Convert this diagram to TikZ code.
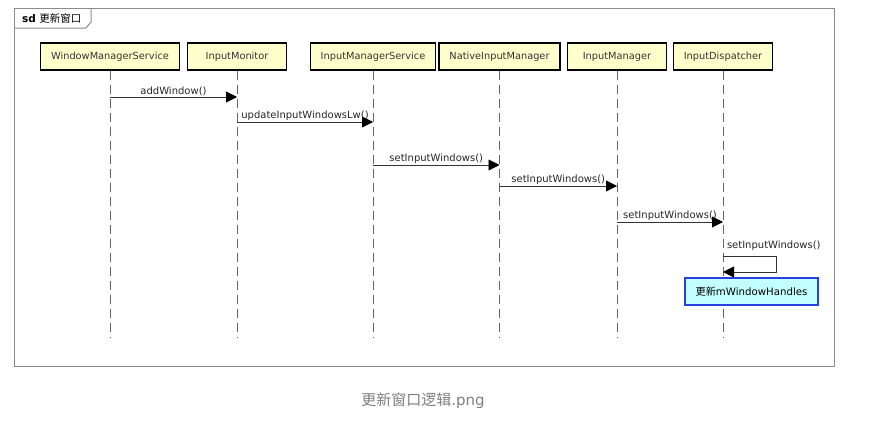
\documentclass[tikz,border=0pt]{standalone}
\usepackage{fontspec}
\setmainfont{DejaVu Sans}
\newfontfamily\cjk{Noto Sans CJK SC}
\usetikzlibrary{arrows.meta}
\definecolor{boxfill}{HTML}{FFFFCC}
\definecolor{notefill}{HTML}{C4FFFF}
\definecolor{noteline}{HTML}{2A3FE0}
\definecolor{framegray}{HTML}{8C8C8C}
\tikzset{
  lifebox/.style={draw=black, line width=1.3pt, fill=boxfill, minimum height=27pt, inner sep=0pt, font=\fontsize{9.8}{11}\selectfont, text=black!80},
  lifeline/.style={draw=black!60, line width=0.8pt, dash pattern=on 9pt off 5pt},
  msg/.style={draw=black!80, line width=0.8pt, -{Triangle[length=11pt,width=11pt,fill=black,color=black]}},
  msglabel/.style={font=\fontsize{10}{11}\selectfont, text=black!85, inner sep=0.8pt},
}
\begin{document}
\begin{tikzpicture}[x=1pt,y=-1pt]
\useasboundingbox[fill=white] (0,0) rectangle (870,423);
% frame
\draw[framegray, line width=1pt] (14,8) rectangle (834,366);
\draw[framegray, line width=1pt] (14,28) -- (86,28) -- (91,22) -- (91,8);
\node[anchor=west, inner sep=0pt, font=\fontsize{10.5}{12}\selectfont] (title) at (22,18) {\textbf{sd} {\cjk 更新窗口}};
% lifeline heads
\node[lifebox, minimum width=139pt] (wms) at (110,56.5) {WindowManagerService};
\node[lifebox, minimum width=99pt] (im) at (237,56.5) {InputMonitor};
\node[lifebox, minimum width=125pt] (ims) at (373,56.5) {InputManagerService};
\node[lifebox, minimum width=121pt] (nim) at (499.5,56.5) {NativeInputManager};
\node[lifebox, minimum width=99pt] (imgr) at (617,56.5) {InputManager};
\node[lifebox, minimum width=99pt] (idp) at (723,56.5) {InputDispatcher};
% lifelines
\foreach \n in {wms,im,ims,nim,imgr,idp} {
  \coordinate (\n-end) at (\n |- 0,338);
  \draw[lifeline] (\n.south) -- (\n-end);
}
% messages
\draw[msg] (wms |- 0,97) -- node[msglabel, above] {addWindow()} (im |- 0,97);
\draw[msg] (im |- 0,122) -- node[msglabel, above] {updateInputWindowsLw()} (ims |- 0,122);
\draw[msg] (ims |- 0,165) -- node[msglabel, above] {setInputWindows()} (nim |- 0,165);
\draw[msg] (nim |- 0,186) -- node[msglabel, above] {setInputWindows()} (imgr |- 0,186);
\draw[msg] (imgr |- 0,222) -- node[msglabel, above] {setInputWindows()} (idp |- 0,222);
% self message
\coordinate (s1) at (idp |- 0,256);
\coordinate (s2) at (idp |- 0,272);
\node[msglabel, anchor=south west] (selflbl) at ([xshift=3pt,yshift=4pt]s1) {setInputWindows()};
\draw[msg] (s1) -- ++(53,0) |- (s2);
% note box
\node[draw=noteline, line width=1.5pt, fill=notefill, minimum width=133pt, minimum height=27pt, inner sep=0pt, font=\fontsize{10.2}{11}\selectfont] (note) at (751.5,291.5) {{\cjk 更新}mWindowHandles};
% caption
\node[font=\fontsize{15}{17}\selectfont, text=black!50] (cap) at (423,401) {{\cjk 更新窗口逻辑}.png};
\end{tikzpicture}
\end{document}
